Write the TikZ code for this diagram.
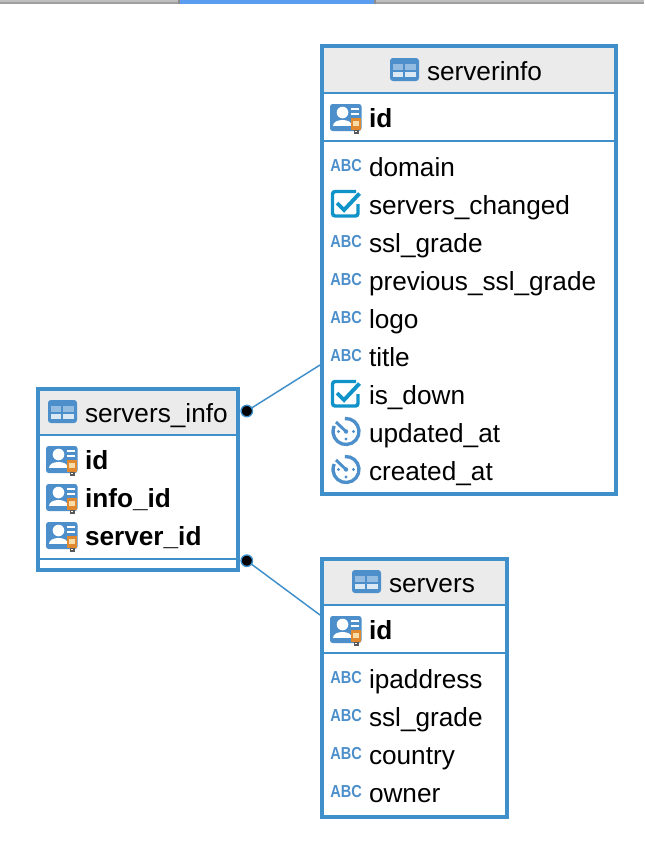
\documentclass[tikz,border=0pt]{standalone}
\usepackage{fontspec}
\usepackage{graphicx}
\setmainfont{Liberation Sans}
\usetikzlibrary{fit}
\definecolor{erblue}{HTML}{3F8FCA}
\definecolor{iconblue}{HTML}{4C8FCB}
\definecolor{checkblue}{HTML}{0F93C9}
\definecolor{headgray}{HTML}{EBEBEB}
\definecolor{tabblue}{HTML}{5B9DF0}
\definecolor{tagorange}{HTML}{E0892F}
\definecolor{taglight}{HTML}{F9DDA8}
\tikzset{
  x=0.75pt,y=-0.75pt,
  tablebox/.style={draw=erblue,line width=3pt,rectangle,inner sep=0pt,outer sep=0pt},
  sepline/.style={draw=erblue,line width=1.3pt},
  rowtext/.style={anchor=base west,inner sep=0pt,outer sep=0pt,text=black,font=\fontsize{19.65}{24}\selectfont},
  keytext/.style={rowtext,font=\fontsize{19.65}{24}\selectfont\bfseries},
  linkline/.style={draw=erblue,line width=1.1pt},
  linkdot/.style={circle,fill=black,draw=erblue,line width=1pt,minimum size=8.6pt,inner sep=0pt,outer sep=0pt},
  tableicon/.pic={
    \fill[iconblue,rounded corners=2.2pt] (0,0) rectangle (29,23);
    \fill[white!40!iconblue] (3.4,6) rectangle (13.4,12);
    \fill[white!40!iconblue] (15.2,6) rectangle (25.6,12);
    \fill[white!80!iconblue] (3.4,13.8) rectangle (13.4,19);
    \fill[white!80!iconblue] (15.2,13.8) rectangle (25.6,19);
  },
  keyicon/.pic={
    \fill[iconblue,rounded corners=2pt] (0,-23) rectangle (31.5,4);
    \fill[white] (12.5,-14.5) circle (5.8);
    \fill[white] (2.5,-1) .. controls (2.5,-9.5) and (22,-9.5) .. (22,-1) -- cycle;
    \fill[white] (21,-19) rectangle (28.5,-17);
    \fill[white] (21,-14.5) rectangle (28.5,-12.5);
    \fill[tagorange] (21,-9) rectangle (31,3);
    \fill[taglight] (23,-6.5) rectangle (29,-1);
    \fill[gray!70!black] (23.5,3) rectangle (28.5,7);
    \fill[white] (25.2,3.5) rectangle (26.8,5);
  },
  abcicon/.pic={
    \node[anchor=base west,inner sep=0pt,text=iconblue,font=\fontsize{13}{14}\selectfont\bfseries] at (0,-5) {\scalebox{0.84}[1]{ABC}};
  },
  checkicon/.pic={
    \draw[checkblue,line width=2.6pt,rounded corners=2pt] (26,-22.5) -- (2.5,-22.5) -- (2.5,2) -- (28,2) -- (28,-10);
    \draw[checkblue,line width=2.9pt] (7,-11) -- (14,-4) -- (29.5,-20.5);
  },
  clockicon/.pic={
    \draw[iconblue,line width=2.5pt] (15,-10.5) ++(-95:13) arc[start angle=-95,end angle=205,radius=13];
    \draw[iconblue,line width=2.2pt] (5,-20) -- (15,-10.5);
    \fill[iconblue] (15,-10.5) circle (2.2);
    \fill[iconblue] (22.5,-10.5) circle (1.6);
    \fill[iconblue] (15,-3) circle (1.6);
    \fill[iconblue] (7.5,-10.5) circle (1.6);
  },
}
\begin{document}
\begin{tikzpicture}
\useasboundingbox (0,0) rectangle (644,860);
% tab strip
\fill[gray!50] (0,0) rectangle (178,2);
\fill[gray!75] (0,2) rectangle (178,3.6);
\fill[gray!50] (376,0) rectangle (644,2);
\fill[gray!75] (376,2) rectangle (644,3.6);
\fill[gray!90] (178,0) rectangle (180,3.6);
\fill[gray!90] (374,0) rectangle (376,3.6);
\fill[tabblue] (180,0) rectangle (374,3.8);

% header fills
\fill[headgray] (322,46) rectangle (616,93);
\fill[headgray] (38,389) rectangle (238,435);
\fill[headgray] (322,559) rectangle (507,605);

% separators
\draw[sepline] (322,93) -- (616,93);
\draw[sepline] (322,141) -- (616,141);
\draw[sepline] (38,435) -- (238,435);
\draw[sepline] (38,559) -- (238,559);
\draw[sepline] (322,605) -- (507,605);
\draw[sepline] (322,653) -- (507,653);

% tables
\node[tablebox,fit={(322,46)(616,494)}] (serverinfo) {};
\node[tablebox,fit={(38,388.5)(238,570)}] (serversinfo) {};
\node[tablebox,fit={(322,559)(507,817)}] (servers) {};

% headers
\pic at (390,58) {tableicon};
\node[rowtext] (serverinfotitle) at (427,80) {serverinfo};
\pic at (48,400) {tableicon};
\node[rowtext] (serversinfotitle) at (85,422) {servers\_info};
\pic at (352,570) {tableicon};
\node[rowtext] (serverstitle) at (389,592) {servers};

% serverinfo columns
\pic at (330,127) {keyicon};
\node[keytext] (si1) at (369,127) {id};
\pic at (330,176) {abcicon};
\node[rowtext] (si2) at (369,176) {domain};
\pic at (330,214) {checkicon};
\node[rowtext] (si3) at (369,214) {servers\_changed};
\pic at (330,252) {abcicon};
\node[rowtext] (si4) at (369,252) {ssl\_grade};
\pic at (330,290) {abcicon};
\node[rowtext] (si5) at (369,290) {previous\_ssl\_grade};
\pic at (330,328) {abcicon};
\node[rowtext] (si6) at (369,328) {logo};
\pic at (330,366) {abcicon};
\node[rowtext] (si7) at (369,366) {title};
\pic at (330,404) {checkicon};
\node[rowtext] (si8) at (369,404) {is\_down};
\pic at (331,442) {clockicon};
\node[rowtext] (si9) at (369,442) {updated\_at};
\pic at (331,480) {clockicon};
\node[rowtext] (si10) at (369,480) {created\_at};

% servers_info columns
\pic at (46,469) {keyicon};
\node[keytext] (li1) at (85,469) {id};
\pic at (46,507) {keyicon};
\node[keytext] (li2) at (85,507) {info\_id};
\pic at (46,545) {keyicon};
\node[keytext] (li3) at (85,545) {server\_id};

% servers columns
\pic at (330,639) {keyicon};
\node[keytext] (sv1) at (369,639) {id};
\pic at (330,688) {abcicon};
\node[rowtext] (sv2) at (369,688) {ipaddress};
\pic at (330,726) {abcicon};
\node[rowtext] (sv3) at (369,726) {ssl\_grade};
\pic at (330,764) {abcicon};
\node[rowtext] (sv4) at (369,764) {country};
\pic at (330,802) {abcicon};
\node[rowtext] (sv5) at (369,802) {owner};

% connectors
\node[linkdot] (dotinfo) at (246.8,411) {};
\node[linkdot] (dotserver) at (246.8,560.7) {};
\coordinate (endinfo) at (320,365);
\coordinate (endserver) at (320,615);
\draw[linkline] (dotinfo) -- (endinfo);
\draw[linkline] (dotserver) -- (endserver);
\end{tikzpicture}
\end{document}
